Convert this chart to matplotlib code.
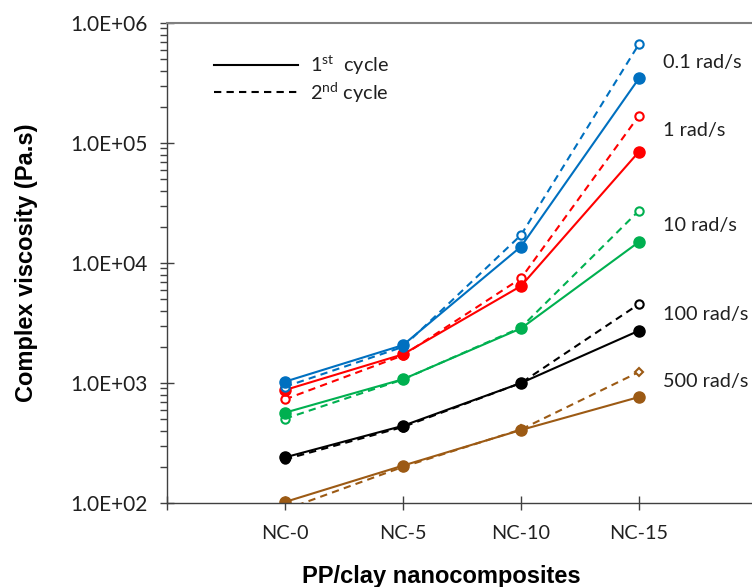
import matplotlib.pyplot as plt
import numpy as np
from matplotlib.lines import Line2D
from matplotlib.ticker import FixedLocator, LogLocator, NullFormatter

# samples and frequencies
categories = ["NC-0", "NC-5", "NC-10", "NC-15"]
freq_labels = ["0.1 rad/s", "1 rad/s", "10 rad/s", "100 rad/s", "500 rad/s"]
colors = ["#0070C0", "#FF0000", "#00B050", "#000000", "#9C5A14"]

# complex viscosity (Pa.s), 1st cycle (solid) and 2nd cycle (dashed)
cycle1 = [
    [1026, 2070, 13700, 346000],
    [874, 1734, 6430, 84700],
    [566, 1075, 2850, 15000],
    [240, 440, 1000, 2730],
    [102, 205, 406, 764],
]
cycle2 = [
    [930, 2000, 17100, 668000],
    [731, 1700, 7450, 169000],
    [504, 1070, 2900, 27300],
    [231, 430, 1000, 4550],
    [88, 200, 410, 1235],
]
# y position of the frequency tags at the right
tag_y = [473000, 128000, 20700, 3690, 1020]

plt.rcParams['font.family'] = ['Lato', 'DejaVu Sans']
plt.rcParams['mathtext.fontset'] = 'custom'
plt.rcParams['mathtext.rm'] = 'Lato'

fig = plt.figure(figsize=(7.52, 5.87), dpi=100)
ax = fig.add_axes([167 / 752, 1 - 503 / 587, 590 / 752, 480 / 587])

x = np.arange(1, len(categories) + 1)
for i in range(len(freq_labels) - 1, -1, -1):
    c = colors[i]
    mk2 = 'D' if i == len(freq_labels) - 1 else 'o'
    ms2 = 4.5 if mk2 == 'D' else 6
    ax.plot(x, cycle2[i], color=c, lw=1.5, dashes=(3.5, 2.5), marker=mk2,
            ms=ms2, mfc='white', mec=c, mew=1.5)
    ax.plot(x, cycle1[i], color=c, lw=1.5, marker='o', ms=8, mfc=c, mec=c)
    ax.text(4.2, tag_y[i], freq_labels[i], fontsize=14.3, va='center', ha='left',
            color='#202020')

ax.set_yscale('log')
ax.set_ylim(100, 1e6)
ax.set_xlim(0, 5)

ax.yaxis.set_major_locator(FixedLocator([1e2, 1e3, 1e4, 1e5, 1e6]))
ax.set_yticklabels(["1.0E+02", "1.0E+03", "1.0E+04", "1.0E+05", "1.0E+06"])
ax.yaxis.set_minor_locator(LogLocator(base=10, subs=np.arange(2, 10)))
ax.yaxis.set_minor_formatter(NullFormatter())
ax.tick_params(axis='y', which='major', direction='inout', length=10, width=1,
               labelsize=15, pad=9, colors='#404040', labelcolor='#202020')
ax.tick_params(axis='y', which='minor', direction='out', length=5, width=1,
               colors='#404040')

ax.set_xticks(np.arange(0, len(categories) + 2))
ax.set_xticklabels([""] + categories + [""])
ax.tick_params(axis='x', direction='inout', length=10, width=1, labelsize=14.3,
               pad=11, colors='#404040', labelcolor='#202020')

for side in ['left', 'bottom']:
    ax.spines[side].set_color('#404040')
    ax.spines[side].set_linewidth(1)
ax.spines['top'].set_color('#808080')
ax.spines['top'].set_linewidth(1.5)
ax.spines['right'].set_visible(False)

handles = [Line2D([], [], color='black', lw=1.5),
           Line2D([], [], color='black', lw=1.5, dashes=(3.5, 2.5))]
ax.legend(handles, [r"1$^{\mathrm{st}}$  cycle", r"2$^{\mathrm{nd}}$ cycle"],
          loc='upper left', bbox_to_anchor=(0.05, 0.975), frameon=False,
          fontsize=14.3, handlelength=4.2, handletextpad=0.6, labelspacing=0.15,
          labelcolor='#202020')

fig.text(27 / 752, 1 - 263 / 587, "Complex viscosity (Pa.s)", rotation=90,
         ha='center', va='center', fontsize=17, fontweight='bold',
         family='Liberation Sans')
fig.text(441 / 752, 1 - 577 / 587, "PP/clay nanocomposites", ha='center',
         va='center', fontsize=17, fontweight='bold', family='Liberation Sans')

fig.savefig("out.png", dpi=100)
